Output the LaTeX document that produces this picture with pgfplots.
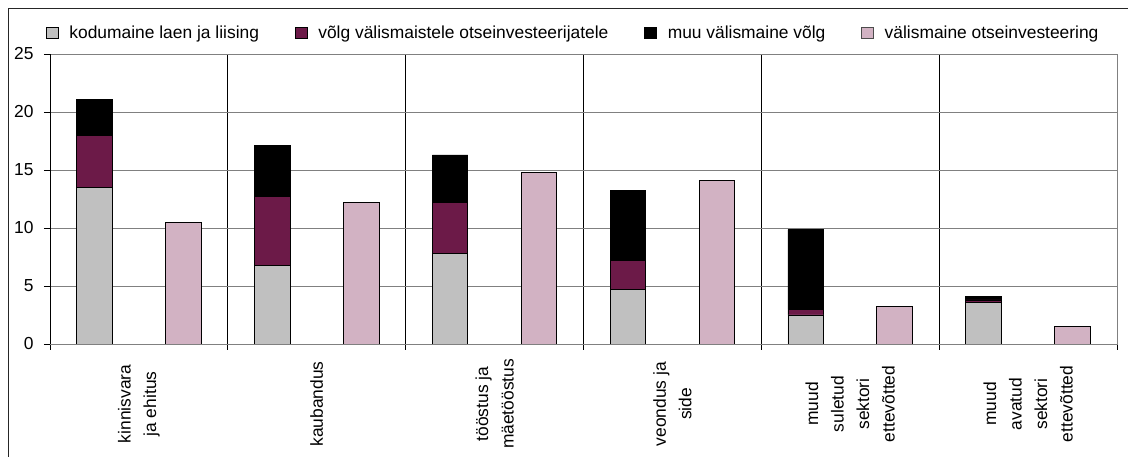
\documentclass[border=0pt]{standalone}
\usepackage{fontspec}
\setmainfont{Liberation Sans}
\usepackage{pgfplots}
\pgfplotsset{compat=1.18}
\definecolor{cgray}{HTML}{C0C0C0}
\definecolor{cpurple}{HTML}{6C1A48}
\definecolor{cpink}{HTML}{D2B2C3}
\definecolor{gridgray}{HTML}{808080}
\newcommand{\lfont}{\fontsize{17.4}{25.5}\selectfont}
\pgfplotsset{sqlegend/.style={legend image code/.code={\draw[##1, line width=0.6pt] (0pt,-5.5pt) rectangle (12pt,5.5pt); \path[draw=none, fill=none] (0pt,0pt) -- (21pt,0pt);}}}
\begin{document}
\begin{tikzpicture}[x=1pt,y=1pt]
\useasboundingbox (0,0) rectangle (1128,457);
\draw[line width=1pt, black!85] (8,-20) -- (8,448) -- (1150,448);
\begin{axis}[
  at={(50pt,113pt)}, anchor=south west,
  width=1067pt, height=290pt, scale only axis,
  xmin=-0.5, xmax=5.5, ymin=0, ymax=25,
  ybar stacked, bar width=0.2,
  ytick={0,5,...,25},
  xtick={-0.5,0.5,...,5.5},
  xticklabels={},
  extra x ticks={0,1,2,3,4,5},
  extra x tick labels={{kinnisvara\\ja ehitus},kaubandus,{tööstus ja\\mäetööstus},{veondus ja\\side},{muud\\suletud\\sektori\\ettevõtted},{muud\\avatud\\sektori\\ettevõtted}},
  extra x tick style={grid=none, major tick length=0pt},
  xticklabel style={font=\lfont, yshift=-60pt, rotate=90, anchor=center, align=center},
  yticklabel style={font=\lfont, xshift=-7pt},
  /pgf/number format/assume math mode=true,
  xmajorgrids, ymajorgrids,
  x grid style={black, line width=0.8pt},
  y grid style={gridgray, line width=0.8pt},
  axis line style={gridgray, line width=0.8pt},
  tick align=outside, major tick length=6pt,
  xtick pos=bottom, ytick pos=left,
  tick style={black, line width=0.8pt},
  every axis plot post/.append style={sqlegend},
  legend columns=4,
  legend style={draw=none, fill=none, font=\lfont, at={(-0.0066,1.0724)}, anchor=west,
    /tikz/every even column/.append style={column sep=34pt}},
  legend cell align=left,
]
\addplot[fill=cgray, draw=black, line width=0.8pt] coordinates {(-0.25,13.5) (0.75,6.75) (1.75,7.8) (2.75,4.7) (3.75,2.5) (4.75,3.55)};
\addplot[fill=cpurple, draw=black, line width=0.8pt] coordinates {(-0.25,4.5) (0.75,5.95) (1.75,4.4) (2.75,2.5) (3.75,0.5) (4.75,0.25)};
\addplot[fill=black, draw=black, line width=0.8pt] coordinates {(-0.25,3.07) (0.75,4.45) (1.75,4.1) (2.75,6.0) (3.75,6.85) (4.75,0.27)};
\addlegendimage{fill=cpink, draw=black!70, sqlegend}
\legend{kodumaine laen ja liising, võlg välismaistele otseinvesteerijatele, muu välismaine võlg, välismaine otseinvesteering}
\draw[black, line width=0.8pt] (rel axis cs:0,0) -- (rel axis cs:0,1);
\end{axis}
\begin{axis}[
  at={(50pt,113pt)}, anchor=south west,
  width=1067pt, height=290pt, scale only axis,
  xmin=-0.5, xmax=5.5, ymin=0, ymax=25,
  hide axis, ybar, bar width=0.2, bar shift=0pt,
]
\addplot[fill=cpink, draw=black, line width=0.8pt] coordinates {(0.25,10.5) (1.25,12.2) (2.25,14.8) (3.25,14.1) (4.25,3.2) (5.25,1.5)};
\end{axis}
\end{tikzpicture}
\end{document}
